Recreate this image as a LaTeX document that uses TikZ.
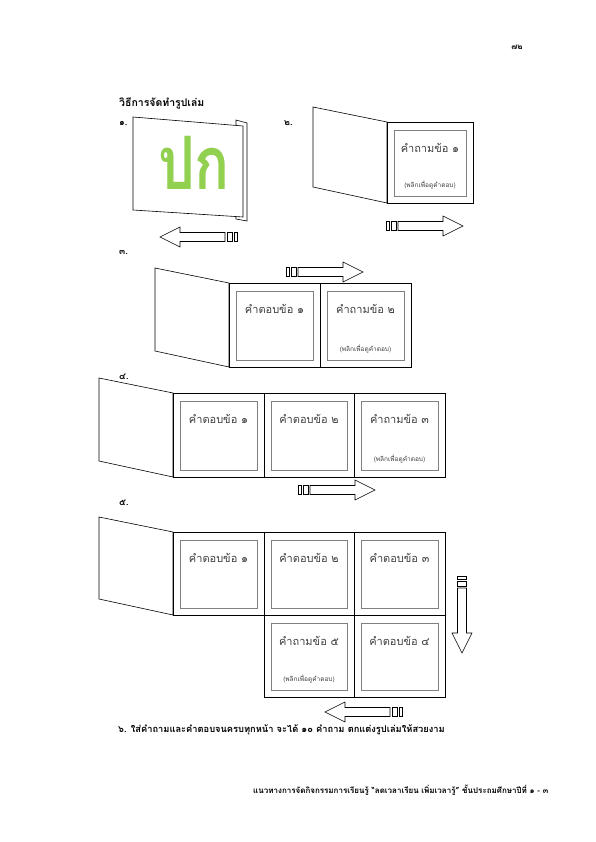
\documentclass[tikz,border=0pt]{standalone}
\usepackage{fontspec}
\newfontfamily\thai[Script=Thai]{Loma}
\usetikzlibrary{calc}
\definecolor{covergreen}{RGB}{146,208,80}
\tikzset{
  outline/.style={draw=black, line width=0.6pt, fill=white},
  innerbox/.style={draw=black!50, line width=0.8pt},
  cardtext/.style={font=\thai\fontsize{11}{13}\selectfont, text=black!75, inner sep=0pt},
  flipnote/.style={font=\thai\fontsize{6.5}{8}\selectfont, text=black!75, inner sep=0pt},
  steplabel/.style={font=\thai\bfseries\fontsize{9}{11}\selectfont, inner sep=0pt, anchor=west},
}
% open page on the left of the hinge
\def\flap(#1,#2)[#3]{\draw[outline] (#1-74,#2-15) -- (#1,#2) -- (#1,#2+#3) -- (#1-74,#2+#3-16) -- cycle;}
% one page of the book with its card
\def\card#1(#2,#3)(#4,#5)#6#7{%
  \draw[outline] (#2,#3) rectangle (#4,#5);
  \draw[innerbox] (#2+7,#3+8) rectangle (#4-7,#5-7);
  \node[cardtext] (#1) at ({(#2+#4)/2},#3+26) {#6};
  \ifx\relax#7\relax\else\node[flipnote] (#1n) at ({(#2+#4)/2},#5-18) {#7};\fi}
% striped block arrow, tail at (#1,#2)
\def\stripearrow(#1,#2)[#3]{%
  \begin{scope}[shift={(#1,#2)},rotate=#3]
    \draw[outline] (0,-4.5) rectangle (3,4.5);
    \draw[outline] (5,-4.5) rectangle (10,4.5);
    \draw[outline] (12,-4.5) -- (57,-4.5) -- (57,-10) -- (77,0) -- (57,10) -- (57,4.5) -- (12,4.5) -- cycle;
  \end{scope}}

\begin{document}
\begin{tikzpicture}[x=1pt,y=-1pt]
  %%%%% PAGE %%%%%
  \fill[white] (0,0) rectangle (595,842);
  \useasboundingbox (0,0) rectangle (595,842);

  \node[font=\thai\bfseries\fontsize{8}{10}\selectfont, inner sep=0pt] (pagenum) at (517,47) {๗๒};
  \node[font=\thai\bfseries\fontsize{10.5}{12}\selectfont, inner sep=0pt, anchor=west] (title) at (119,103) {วิธีการจัดทำรูปเล่ม};

  %%%%% STEP 1 %%%%%
  \node[steplabel] (s1) at (119,123) {๑.};
  \draw[outline] (236,120) -- (247,123) -- (247,221) -- (236,219) -- cycle;
  \draw[outline] (133,117) -- (243,126) -- (243,217) -- (133,210) -- cycle;
  \node[font=\thai\bfseries\fontsize{58}{58}\selectfont, text=covergreen, inner sep=0pt] (cover) at (194,163) {\scalebox{1}[1.27]{ปก}};
  \stripearrow(237,237)[180]

  %%%%% STEP 2 %%%%%
  \node[steplabel] (s2) at (284,123) {๒.};
  \flap(387,122)[81]
  \card{q1}(387,122)(473,203){คำถามข้อ ๑}{(พลิกเพื่อดูคำตอบ)}
  \stripearrow(386,226)[0]

  %%%%% STEP 3 %%%%%
  \node[steplabel] (s3) at (119,252) {๓.};
  \stripearrow(286,272)[0]
  \flap(229,283)[84]
  \card{a1}(229,283)(320,367){คำตอบข้อ ๑}{}
  \card{q2}(320,283)(411,367){คำถามข้อ ๒}{(พลิกเพื่อดูคำตอบ)}

  %%%%% STEP 4 %%%%%
  \node[steplabel] (s4) at (119,377) {๔.};
  \flap(173,393)[84]
  \card{b1}(173,393)(264,477){คำตอบข้อ ๑}{}
  \card{b2}(264,393)(354,477){คำตอบข้อ ๒}{}
  \card{q3}(354,393)(445,477){คำถามข้อ ๓}{(พลิกเพื่อดูคำตอบ)}
  \stripearrow(298,490)[0]

  %%%%% STEP 5 %%%%%
  \node[steplabel] (s5) at (119,503) {๕.};
  \flap(173,532)[83]
  \card{c1}(173,532)(264,615){คำตอบข้อ ๑}{}
  \card{c2}(264,532)(354,615){คำตอบข้อ ๒}{}
  \card{c3}(354,532)(445,615){คำตอบข้อ ๓}{}
  \card{q5}(264,615)(354,697){คำถามข้อ ๕}{(พลิกเพื่อดูคำตอบ)}
  \card{c4}(354,615)(445,697){คำตอบข้อ ๔}{}
  \stripearrow(462,576)[-90]
  \stripearrow(402,712)[180]

  %%%%% STEP 6 %%%%%
  \node[font=\thai\bfseries\fontsize{9.3}{11}\selectfont, inner sep=0pt, anchor=west] (s6) at (118,730)
    {๖. ใส่คำถามและคำตอบจนครบทุกหน้า จะได้ ๑๐ คำถาม ตกแต่งรูปเล่มให้สวยงาม};

  \node[font=\thai\bfseries\fontsize{8}{10}\selectfont, inner sep=0pt, anchor=west] (footer) at (253,790)
    {แนวทางการจัดกิจกรรมการเรียนรู้ “ลดเวลาเรียน เพิ่มเวลารู้” ชั้นประถมศึกษาปีที่ ๑ - ๓};
  %%%%% END %%%%%
\end{tikzpicture}
\end{document}
